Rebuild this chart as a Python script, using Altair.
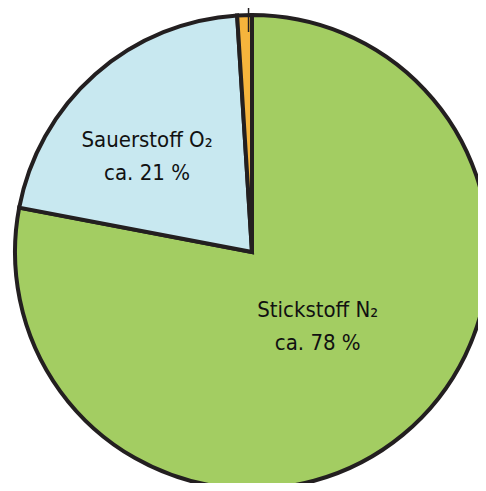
import altair as alt
import pandas as pd

gases = ["Stickstoff N₂", "Sauerstoff O₂", "Argon u. a."]
shares = [78, 21, 1]
share_labels = ["ca. 78 %", "ca. 21 %", "ca. 1 %"]
colors = ["#a3cd62", "#c8e8f0", "#f6b43c"]

df = pd.DataFrame({
    "gas": gases,
    "share": shares,
    "order": list(range(len(gases))),
    "text": [g + "\n" + l for g, l in zip(gases, share_labels)],
})

CX, CY = 244, 244
R = 237
FONT = "DejaVu Sans Condensed"
theta_scale = alt.Scale(domain=[0, 100])

pie = alt.Chart(df).mark_arc(outerRadius=R, stroke="#231f20", strokeWidth=4).encode(
    theta=alt.Theta("share:Q", stack=True, scale=theta_scale),
    order=alt.Order("order:Q"),
    color=alt.Color("gas:N", scale=alt.Scale(domain=gases, range=colors), legend=None),
    x=alt.value(CX),
    y=alt.value(CY),
)


def with_mid(chart):
    return chart.transform_window(
        cum="sum(share)", sort=[alt.SortField("order")], frame=[None, 0]
    ).transform_calculate(mid="datum.cum - datum.share / 2")


def label_layer(i, r, dx, dy):
    return with_mid(alt.Chart(df)).transform_filter(alt.datum.order == i).mark_text(
        radius=r, dx=dx, dy=dy, baseline="alphabetic", align="center",
        lineBreak="\n", lineHeight=33, fontSize=22, font=FONT, color="#111111",
    ).encode(
        theta=alt.Theta("mid:Q", scale=theta_scale),
        text="text:N",
        x=alt.value(CX),
        y=alt.value(CY),
    )


green_label = label_layer(0, 100, 2, -12)
blue_label = label_layer(1, 130, -19, -7)

leader = with_mid(alt.Chart(df)).transform_filter(alt.datum.order == 2).transform_calculate(
    ang="(datum.cum - datum.share / 4) / 100 * 2 * PI",
).transform_calculate(
    lx=f"{CX} + 220 * sin(datum.ang)",
    ly=f"{CY} - 220 * cos(datum.ang)",
).mark_rule(color="#231f20", strokeWidth=1.5).encode(
    x=alt.X("lx:Q", scale=None),
    y=alt.Y("ly:Q", scale=None),
    y2=alt.value(-10),
)

chart = alt.layer(pie, leader, green_label, blue_label).properties(
    width=470, height=475, autosize="none", padding=0
).configure_view(stroke=None)

chart.save("out.html", embed_options={"renderer": "svg", "actions": False})
